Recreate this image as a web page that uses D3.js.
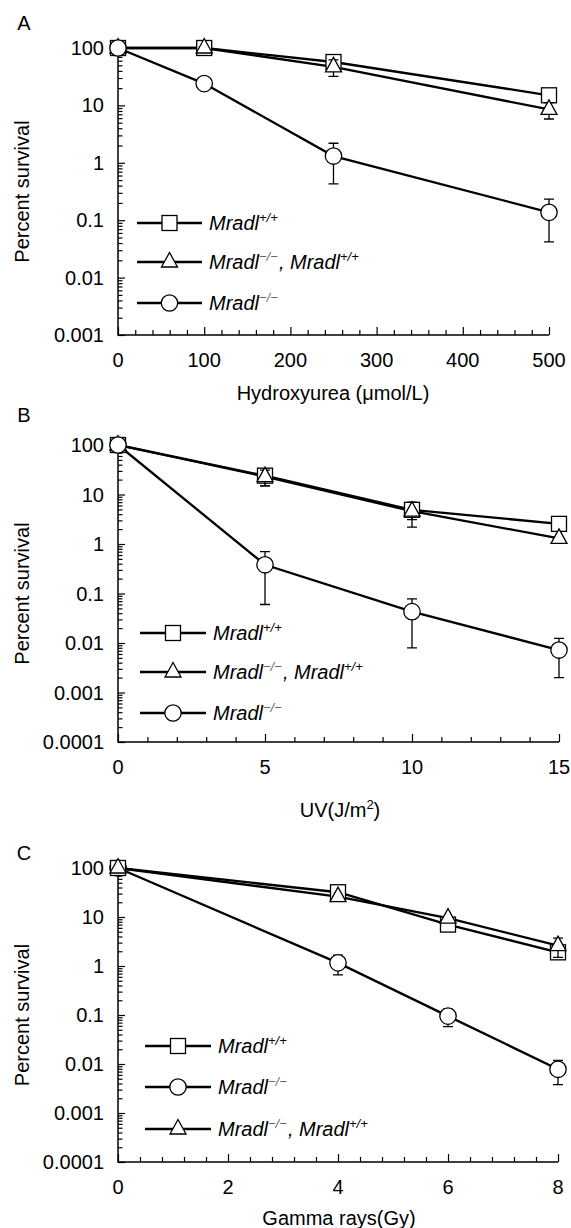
<!DOCTYPE html>
<html lang="en">
<head>
<meta charset="UTF-8">
<title>survival</title>
<script src="https://cdn.jsdelivr.net/npm/d3@7"></script>
<style>
    body{ margin:0; background:#fff; }
    svg{ display:block; font-family:"Liberation Sans", Arial, sans-serif; }
</style>
</head>
<body>
<script type="text/javascript">

    // ---- data ----
    let hydroxyDoses = [0, 100, 250, 500];
    let hydroxyWT = [100, 100, 57, 15];
    let hydroxyWTErr = [0, 0, 0, 0];
    let hydroxyRescue = [100, 100, 47, 8.5];
    let hydroxyRescueErr = [0, 0, 15, 2.7];
    let hydroxyKO = [100, 24, 1.31, 0.137];
    let hydroxyKOErr = [0, 0, 0.88, 0.095];

    let uvDoses = [0, 5, 10, 15];
    let uvWT = [100, 24, 4.9, 2.55];
    let uvWTErr = [0, 9, 1.8, 0];
    let uvRescue = [100, 23, 4.6, 1.3];
    let uvRescueErr = [0, 8, 2.4, 0];
    let uvKO = [100, 0.38, 0.043, 0.0072];
    let uvKOErr = [0, 0.32, 0.035, 0.0052];

    let gammaDoses = [0, 4, 6, 8];
    let gammaWT = [100, 32, 7, 1.9];
    let gammaWTErr = [0, 0, 0, 0.4];
    let gammaKO = [100, 1.16, 0.095, 0.0078];
    let gammaKOErr = [0, 0.5, 0.037, 0.004];
    let gammaRescue = [100, 26, 9.5, 2.6];
    let gammaRescueErr = [0, 0, 0, 1.1];

    let hydroxyXTicks = [0, 100, 200, 300, 400, 500];
    let uvXTicks = [0, 5, 10, 15];
    let gammaXTicks = [0, 2, 4, 6, 8];
    let yTicksA = [100, 10, 1, 0.1, 0.01, 0.001];
    let yTicksBC = [100, 10, 1, 0.1, 0.01, 0.001, 0.0001];

    // legend labels: plain part + superscript part
    let labelWT = [["Mradl", "+/+"]];
    let labelKO = [["Mradl", "\u2212/\u2212"]];
    let labelRescue = [["Mradl", "\u2212/\u2212"], [", Mradl", "+/+"]];

    let svg = d3.select("body").append("svg")
        .attr("width", 571)
        .attr("height", 1228);

    let triPath = "M0,-9.5L8,5L-8,5Z";

    let drawMarker = (g, shape, cx, cy) => {
        if (shape == "square") {
            g.append("rect").attr("x", cx - 7.5).attr("y", cy - 7.5)
                .attr("width", 15).attr("height", 15)
                .attr("fill", "#fff").attr("stroke", "#000").attr("stroke-width", 1.3);
        } else if (shape == "circle") {
            g.append("circle").attr("cx", cx).attr("cy", cy).attr("r", 8.2)
                .attr("fill", "#fff").attr("stroke", "#000").attr("stroke-width", 1.3);
        } else {
            g.append("path").attr("d", triPath)
                .attr("transform", `translate(${cx},${cy})`)
                .attr("fill", "#fff").attr("stroke", "#000").attr("stroke-width", 1.3);
        }
    };

    let drawPanel = (p) => {
        let g = svg.append("g");

        let x = d3.scaleLinear().domain(p.xDomain).range([p.left, p.right]);
        let y = d3.scaleLog().domain([p.yMin, 100]).range([p.bottom, p.top]);

        // panel letter
        g.append("text").attr("x", 24).attr("y", p.letterY)
            .attr("text-anchor", "middle").attr("dy", "0.35em")
            .attr("font-size", 20).text(p.letter);

        // y axis: ticks drawn inward
        let yAxis = d3.axisRight(y)
            .tickValues(p.yTicks)
            .tickSize(7)
            .tickFormat("");
        let yg = g.append("g").attr("transform", `translate(${p.left},0)`);
        yAxis(yg);
        yg.select(".domain").remove();
        let minors = [];
        p.yTicks.forEach(t => {
            if (t < 100) for (let k = 2; k <= 9; k++) minors.push(t * k);
        });
        let yMinor = d3.axisRight(y).tickValues(minors).tickSize(4.5).tickFormat("");
        let ymg = g.append("g").attr("transform", `translate(${p.left},0)`);
        yMinor(ymg);
        ymg.select(".domain").remove();

        p.yTicks.forEach(t => {
            g.append("text").attr("x", p.left - 14).attr("y", y(t))
                .attr("dy", "0.35em").attr("text-anchor", "end")
                .attr("font-size", 20).text(d3.format("~g")(t));
        });

        // x axis: ticks drawn upward
        let xAxis = d3.axisTop(x).tickValues(p.xTicks).tickSize(8).tickFormat("");
        let xg = g.append("g").attr("transform", `translate(0,${p.bottom})`);
        xAxis(xg);
        xg.select(".domain").remove();
        let xm = d3.range(p.xDomain[0], p.xDomain[1] + 1e-9, p.xMinor)
            .filter(v => !p.xTicks.some(t => Math.abs(t - v) < 1e-6));
        let xMinor = d3.axisTop(x).tickValues(xm).tickSize(5).tickFormat("");
        let xmg = g.append("g").attr("transform", `translate(0,${p.bottom})`);
        xMinor(xmg);
        xmg.select(".domain").remove();
        g.selectAll(".tick line").attr("stroke", "#000").attr("stroke-width", 1.2);

        p.xTicks.forEach(t => {
            g.append("text").attr("x", x(t)).attr("y", p.bottom + 32)
                .attr("text-anchor", "middle").attr("font-size", 20).text(t);
        });

        // axis lines (left + bottom only)
        g.append("path")
            .attr("d", `M${p.left},${p.top - 2}V${p.bottom}H${p.right}`)
            .attr("fill", "none").attr("stroke", "#000").attr("stroke-width", 1.5);

        // titles
        g.append("text")
            .attr("transform", `translate(22,${(p.top + p.bottom) / 2}) rotate(-90)`)
            .attr("text-anchor", "middle").attr("dy", "0.35em")
            .attr("font-size", 20).text("Percent survival");
        let xt = g.append("text").attr("x", p.titleX).attr("y", p.titleY)
            .attr("text-anchor", "middle").attr("font-size", 20);
        p.xTitle(xt);

        // lines
        let line = d3.line().x((d, i) => x(p.doses[i])).y(d => y(d));
        p.series.forEach(s => {
            g.append("path").datum(s.values)
                .attr("d", line)
                .attr("fill", "none").attr("stroke", "#000").attr("stroke-width", 2.3);
        });

        // error bars + markers
        p.series.forEach(s => {
            s.values.forEach((v, i) => {
                let e = s.err[i];
                if (e > 0) {
                    let cx = x(p.doses[i]);
                    let y1 = y(v + e), y2 = y(Math.max(v - e, p.yMin));
                    g.append("path")
                        .attr("d", `M${cx},${y1}V${y2}M${cx - 5},${y1}H${cx + 5}M${cx - 5},${y2}H${cx + 5}`)
                        .attr("stroke", "#000").attr("stroke-width", 1.3).attr("fill", "none");
                }
            });
            s.values.forEach((v, i) => drawMarker(g, s.shape, x(p.doses[i]), y(v)));
        });

        // legend
        p.legend.forEach((s, k) => {
            let ly = p.legendY[k];
            g.append("line").attr("x1", p.legendX1).attr("x2", p.legendX2)
                .attr("y1", ly).attr("y2", ly)
                .attr("stroke", "#000").attr("stroke-width", 2.3);
            drawMarker(g, s.shape, (p.legendX1 + p.legendX2) / 2, ly);
            let t = g.append("text").attr("x", p.legendX2 + 7).attr("y", ly + 7)
                .attr("font-size", 20).attr("font-style", "italic");
            s.label.forEach(part => {
                t.append("tspan").text(part[0]);
                t.append("tspan").attr("font-size", 13).attr("dy", -8)
                    .attr("fill", part[1].includes("\u2212") ? "#666" : "#000")
                    .text(part[1]);
                t.append("tspan").attr("font-size", 13).attr("dy", 8).text("\u200a");
            });
        });
    };

    let wtA = { shape: "square", values: hydroxyWT, err: hydroxyWTErr, label: labelWT };
    let reA = { shape: "triangle", values: hydroxyRescue, err: hydroxyRescueErr, label: labelRescue };
    let koA = { shape: "circle", values: hydroxyKO, err: hydroxyKOErr, label: labelKO };

    drawPanel({
        letter: "A", letterY: 23,
        left: 118, right: 549, top: 48, bottom: 335,
        xDomain: [0, 500], xTicks: hydroxyXTicks, xMinor: 20,
        yMin: 0.001, yTicks: yTicksA,
        doses: hydroxyDoses,
        series: [wtA, reA, koA],
        legend: [wtA, reA, koA],
        legendX1: 137, legendX2: 202, legendY: [223, 262, 303],
        titleX: 333, titleY: 400,
        xTitle: t => t.text("Hydroxyurea (\u03bcmol/L)")
    });

    let wtB = { shape: "square", values: uvWT, err: uvWTErr, label: labelWT };
    let reB = { shape: "triangle", values: uvRescue, err: uvRescueErr, label: labelRescue };
    let koB = { shape: "circle", values: uvKO, err: uvKOErr, label: labelKO };

    drawPanel({
        letter: "B", letterY: 415,
        left: 118, right: 559, top: 445, bottom: 742,
        xDomain: [0, 15], xTicks: uvXTicks, xMinor: 1,
        yMin: 0.0001, yTicks: yTicksBC,
        doses: uvDoses,
        series: [wtB, reB, koB],
        legend: [wtB, reB, koB],
        legendX1: 140, legendX2: 206, legendY: [633, 672, 713],
        titleX: 340, titleY: 817,
        xTitle: t => {
            t.append("tspan").text("UV(J/m");
            t.append("tspan").attr("font-size", 13).attr("dy", -8).text("2");
            t.append("tspan").attr("dy", 8).text(")");
        }
    });

    let wtC = { shape: "square", values: gammaWT, err: gammaWTErr, label: labelWT };
    let koC = { shape: "circle", values: gammaKO, err: gammaKOErr, label: labelKO };
    let reC = { shape: "triangle", values: gammaRescue, err: gammaRescueErr, label: labelRescue };

    drawPanel({
        letter: "C", letterY: 853,
        left: 118, right: 558, top: 868, bottom: 1162,
        xDomain: [0, 8], xTicks: gammaXTicks, xMinor: 0.4,
        yMin: 0.0001, yTicks: yTicksBC,
        doses: gammaDoses,
        series: [koC, wtC, reC],
        legend: [wtC, koC, reC],
        legendX1: 145, legendX2: 211, legendY: [1046, 1087, 1129],
        titleX: 339, titleY: 1225,
        xTitle: t => t.text("Gamma rays(Gy)")
    });

</script>
</body>
</html>
